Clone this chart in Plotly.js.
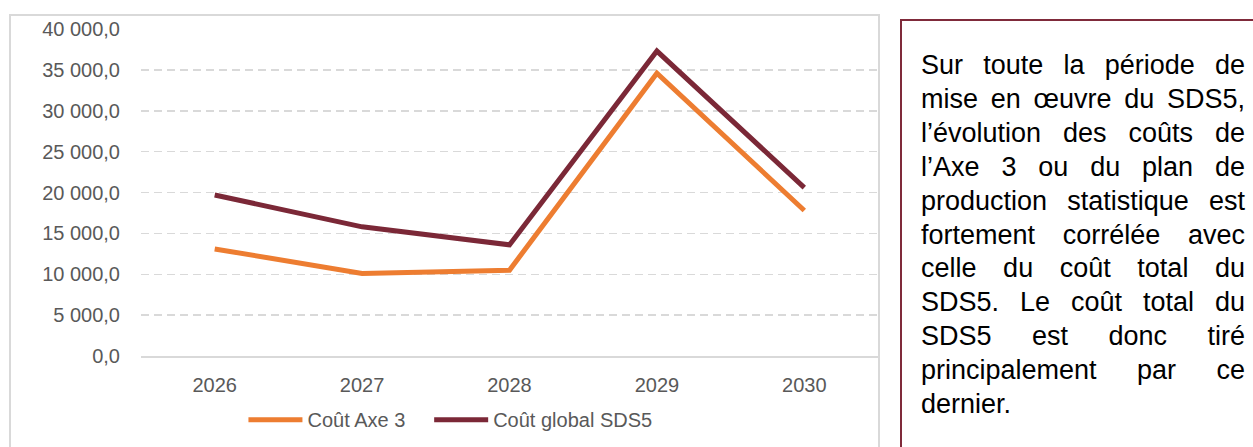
<!DOCTYPE html>
<html>
<head>
<meta charset="utf-8">
<script src="https://cdn.plot.ly/plotly-3.0.1.min.js"></script>
<style>
  html, body { margin: 0; padding: 0; background: #fff; width: 1253px; height: 447px; overflow: hidden; }
  #chartbox { position: absolute; left: 9px; top: 14px; width: 867px; height: 460px; border: 2px solid #d9d9d9; box-sizing: content-box; }
  #plot { position: absolute; left: 0; top: 0; width: 900px; height: 447px; }
  #textbox { position: absolute; left: 900px; top: 19px; width: 400px; height: 460px; border: 2px solid #7f2a3a; }
  #note { position: absolute; left: 921px; top: 49px; width: 324px; font-family: "Liberation Sans", Arial, sans-serif; font-size: 27px; line-height: 33.9px; color: #000; text-align: justify; }
</style>
</head>
<body>
<div id="chartbox"></div>
<div id="textbox"></div>
<div id="plot"></div>
<div id="note">Sur toute la période de mise en œuvre du SDS5, l’évolution des coûts de l’Axe 3 ou du plan de production statistique est fortement corrélée avec celle du coût total du SDS5. Le coût total du SDS5 est donc tiré principalement par ce dernier.</div>
<script>
const years = ['2026', '2027', '2028', '2029', '2030'];
const coutAxe3 = [13100, 10100, 10500, 34600, 17800];
const coutGlobal = [19700, 15800, 13600, 37300, 20600];
const seriesNames = ['Coût Axe 3', 'Coût global SDS5'];

const chartFont = '"Liberation Sans", Arial, sans-serif';
const legendFont = { family: chartFont, size: 20, color: '#595959' };

const traces = [
  { x: years, y: coutAxe3, name: seriesNames[0], type: 'scatter', mode: 'lines',
    line: { color: '#ED7D31', width: 5 }, legend: 'legend' },
  { x: years, y: coutGlobal, name: seriesNames[1], type: 'scatter', mode: 'lines',
    line: { color: '#7B2837', width: 5 }, legend: 'legend2' }
];

const layout = {
  width: 900, height: 447,
  margin: { l: 141, r: 22, t: 29, b: 91, autoexpand: false },
  paper_bgcolor: 'rgba(0,0,0,0)',
  plot_bgcolor: 'rgba(0,0,0,0)',
  separators: ', ',
  font: { family: chartFont, size: 20, color: '#595959' },
  showlegend: true,
  legend: { orientation: 'h', x: 0.139, xanchor: 'left', y: -0.135, yanchor: 'top',
            font: legendFont, itemwidth: 54, bgcolor: 'rgba(0,0,0,0)' },
  legend2: { orientation: 'h', x: 0.391, xanchor: 'left', y: -0.135, yanchor: 'top',
            font: legendFont, itemwidth: 54, bgcolor: 'rgba(0,0,0,0)' },
  xaxis: { type: 'category', range: [-0.5, 4.5], showgrid: false, showline: true,
           linecolor: '#d9d9d9', linewidth: 1.5, ticks: '', ticklabelstandoff: 10,
           tickfont: { family: chartFont, size: 20, color: '#595959' }, fixedrange: true },
  yaxis: { range: [0, 40000], dtick: 5000, tick0: 0, tickformat: ',.1f',
           showgrid: true, gridcolor: '#d9d9d9', gridwidth: 1.5, griddash: '8px,5px',
           zeroline: false, showline: false, ticks: '', ticklabelstandoff: 20,
           tickfont: { family: chartFont, size: 20, color: '#595959' }, fixedrange: true }
};

Plotly.newPlot('plot', traces, layout, { displayModeBar: false, staticPlot: true });
</script>
</body>
</html>
